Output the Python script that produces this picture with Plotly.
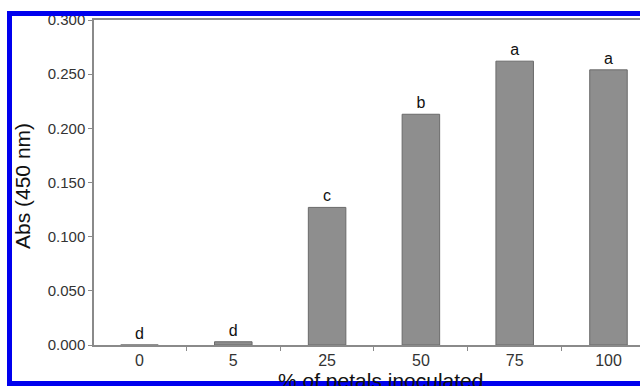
import plotly.graph_objects as go

categories = ["0", "5", "25", "50", "75", "100"]
abs_values = [0.000, 0.003, 0.127, 0.213, 0.262, 0.254]
letters = ["d", "d", "c", "b", "a", "a"]
y_ticks = [0.0, 0.05, 0.10, 0.15, 0.20, 0.25, 0.30]

W, H = 640, 386
L, R, T, B = 94, 0, 20, 386 - 345
pw = W - L - R
ph = H - T - B

def px_x(px):  # page pixel -> paper
    return (px - L) / pw

def px_y(py):
    return (H - B - py) / ph

fig = go.Figure()
fig.add_trace(go.Bar(
    x=categories, y=abs_values, width=0.4,
    marker=dict(color="#8e8e8e", line=dict(color="#6a6a6a", width=1)),
    text=letters, textposition="outside", cliponaxis=False,
    textfont=dict(family="Liberation Sans, Arial, sans-serif", size=16, color="#111"),
))

axis_col = "#8a8a8a"
fig.update_layout(
    width=W, height=H,
    margin=dict(l=L, r=R, t=T, b=B, pad=0),
    paper_bgcolor="white", plot_bgcolor="white",
    showlegend=False,
    font=dict(family="Liberation Sans, Arial, sans-serif", color="#333"),
    xaxis=dict(
        type="category", range=[-0.485, 5.336],
        showline=True, linecolor=axis_col, linewidth=1.5, mirror=True,
        ticks="outside", tickson="boundaries", ticklen=4, tickcolor=axis_col,
        showgrid=False, zeroline=False,
        tickfont=dict(size=16, color="#333"),
    ),
    yaxis=dict(
        range=[0, 0.3], tickvals=y_ticks, tickformat=".3f",
        showline=True, linecolor=axis_col, linewidth=1.5,
        ticks="outside", ticklen=4, tickcolor=axis_col,
        showgrid=False, zeroline=False,
        tickfont=dict(size=15, color="#333"),
    ),
    annotations=[
        dict(text="Abs (450 nm)", x=px_x(22), y=px_y(186), xref="paper", yref="paper",
             textangle=-90, showarrow=False, xanchor="center", yanchor="middle",
             font=dict(size=21, color="#111")),
        dict(text="% of petals inoculated", x=px_x(380), y=px_y(367), xref="paper", yref="paper",
             showarrow=False, xanchor="center", yanchor="top",
             font=dict(size=21, color="#111")),
    ],
    shapes=[
        dict(type="rect", xref="paper", yref="paper", x0=px_x(7), x1=px_x(12),
             y0=px_y(386), y1=px_y(11), fillcolor="#0000ee", line=dict(width=0), layer="above"),
        dict(type="rect", xref="paper", yref="paper", x0=px_x(7), x1=px_x(640),
             y0=px_y(16), y1=px_y(11), fillcolor="#0000ee", line=dict(width=0), layer="above"),
        dict(type="rect", xref="paper", yref="paper", x0=px_x(7), x1=px_x(640),
             y0=px_y(386), y1=px_y(381), fillcolor="#0000ee", line=dict(width=0), layer="above"),
    ],
)

fig.write_html(
    "out.html",
    config={"displayModeBar": False},
    post_script="document.body.style.margin='0';document.body.style.overflow='hidden';",
)
